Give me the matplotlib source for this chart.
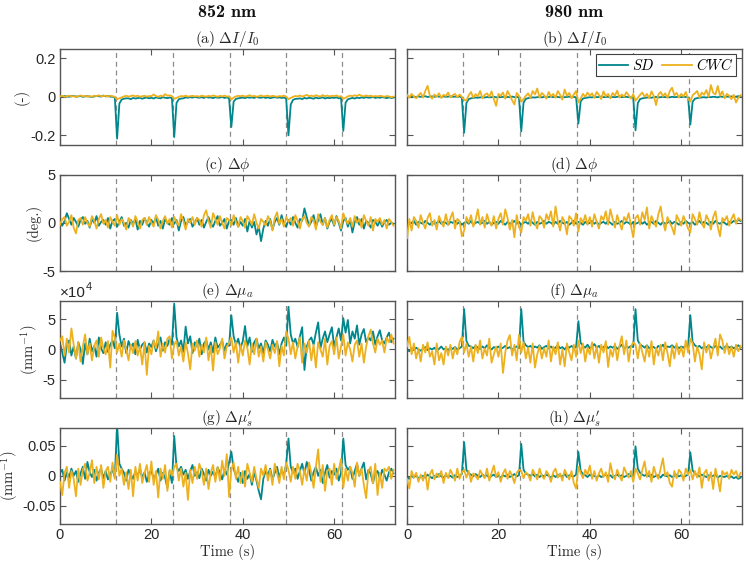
import numpy as np
import matplotlib
matplotlib.use("Agg")
import matplotlib.pyplot as plt

plt.rcParams["font.family"] = ["Liberation Sans", "DejaVu Sans"]
plt.rcParams["mathtext.fontset"] = "cm"
plt.rcParams["axes.unicode_minus"] = False

dt = 0.5  # s between samples
events = [12.2, 24.75, 37.1, 49.4, 61.8]  # stimulus times (s)

# (a) dI/I0, 852 nm, units 1e-3
a_sd = [3, 1, 4, 2, 0, 3, 5, 1, 2, 4, 0, 2, 3, 1, -1, 2, 4, 3, 1, 6,
        2, 4, 1, 0, -3, -217, -35, -14, -10, -8, -8, -12, -6, -9, -7, -5, -10, -6, -4, -8,
        -5, -9, -3, -6, -8, -2, -5, -7, -4, -6, -209, -32, -13, -9, -8, -3, -5, -2, -4, -1,
        -3, -5, -2, -6, -1, -4, -3, -7, -2, -5, -4, -1, -6, -3, -8, -157, -25, -11, -8, -6,
        -4, -7, -2, -5, -3, -6, -1, -4, -5, -2, -6, -3, -7, -4, -2, -5, -3, -6, -4, -8,
        -200, -40, -16, -11, -10, -8, -12, -6, -9, -5, -7, -10, -4, -8, -6, -3, -9, -5, -7, -4,
        -6, -3, -8, -5, -177, -30, -13, -9, -6, -9, -4, -7, -3, -6, -2, -5, -4, -1, -6, -3,
        -5, -2, -4, -7, -3, -6, -4]
a_cwc = [2, 5, 0, 3, 6, 1, 4, -2, 3, 7, 2, 5, 1, 4, 0, 6, 3, 8, 2, 4,
         5, 1, 6, 3, 0, -12, -8, -3, 2, 5, 1, 4, 7, 2, 6, 0, 3, 5, 1, 4,
         3, 12, 4, 0, 6, 2, 14, 5, 8, 3, -10, -6, 0, 4, 2, 6, 1, 3, 5, 2,
         4, 0, 6, 3, 1, 5, 2, 7, 4, 0, 5, 2, 6, 1, 3, -14, -4, 2, 5, 3,
         6, 1, 4, 8, 2, 5, 0, 3, 7, 2, 4, 6, 1, 5, 3, 0, 4, 2, 6, 1,
         -12, -6, 0, 4, 2, 7, 1, 5, 10, 3, 6, 2, 8, 4, 1, 9, 3, 6, 2, 5,
         4, 7, 1, 3, -10, -5, 2, 6, 3, 8, 4, 11, 5, 2, 7, 3, 6, 1, 4, 2,
         5, 3, 0, 4, 2, -2, 1]

# (b) dI/I0, 980 nm, units 1e-3
b_sd = [2, 0, 3, 1, -1, 2, 0, 1, 3, -1, 1, 2, 0, 3, 1, -1, 2, 0, 1, 2,
        0, 1, -1, 2, -4, -186, -32, -12, -8, -6, -4, -5, -3, -2, -4, -1, -3, -2, 0, -3,
        -1, -2, 0, -3, -1, -2, 1, -2, -1, -3, -179, -30, -11, -7, -5, -3, -4, -2, -1, -3,
        0, -2, -1, 1, -2, 0, -1, -3, 0, -2, -1, 1, -2, 0, -3, -139, -24, -9, -6, -4,
        -2, -3, 0, -2, -1, 1, -2, -1, 0, -3, -1, -2, 0, 1, -2, -1, 0, -2, -1, -3,
        -174, -33, -12, -8, -6, -4, -3, -5, -2, -1, -3, -2, 0, -2, -1, -3, 0, -2, -1, 0,
        -2, 0, -1, -3, -144, -26, -10, -7, -5, -3, -2, -4, -1, -2, 0, -1, -3, 1, 0, -1,
        1, 0, 2, -1, 1, 3, 2]
b_cwc = [10, -5, 15, 2, -8, 8, 20, -4, 30, 57, 5, -10, 12, 0, 18, -6, 10, 4, 22, -3,
         8, 15, -2, 12, 0, -15, -20, 8, 25, -5, 14, 2, 30, -8, 10, 18, 0, 28, -12, -47,
         15, 5, 22, -10, 30, 8, -18, -40, 20, 5, -25, -12, 5, 18, -6, 30, 12, 43, -5, 20,
         8, -10, 25, 2, 15, -5, 30, 10, -15, 38, 5, 20, -8, 12, 30, -30, -10, 15, 0, 22,
         5, 18, -6, 25, 10, -12, 28, 2, 15, -8, 20, 6, 32, -4, 12, 0, 24, 8, -10, 14,
         -20, -5, 10, 22, 0, 15, -8, 28, 5, -43, 12, 25, 3, 18, -6, 30, 47, 8, 20, -4,
         15, 2, 25, -10, -25, 8, 18, 30, -5, 22, 10, 35, 0, 61, 20, 12, 56, 5, 28, -8,
         15, 5, -12, 10, -30, -5, 8]

# (c) dphi, 852 nm, units 0.1 deg
c_sd = [0, -3, 2, 10, 4, -2, 5, 1, -4, 3, 6, -1, 2, -5, 4, 0, 7, -3, 1, 3,
        -2, 5, -6, 2, 4, -4, 1, 6, -3, 0, -5, 3, -1, 4, -7, 2, -2, 5, 0, -4,
        3, -1, 6, -3, 2, -6, 4, 0, -2, 5, -1, 3, -8, 2, 6, -3, 1, 4, -4, 0,
        5, -2, 3, -5, 1, 6, -1, -4, 2, 7, -3, 0, 4, -6, 2, 3, -2, 5, -4, 1,
        -3, 4, -9, 2, -5, 1, -12, -4, -19, -6, 2, -3, 4, -7, 1, 5, -2, 8, -1, -4,
        3, -2, 6, 0, -5, 4, 2, 15, 6, -3, 1, 8, -4, 3, 9, -2, 5, -6, 1, 4,
        -3, 7, 0, -8, 2, 5, -4, 3, -10, 1, 6, -2, 4, -6, 2, 0, -5, 3, 1, -3,
        2, -4, 1, 3, -2, 0, -1]
c_cwc = [-2, 4, 6, -3, 1, 8, -5, -11, 3, 5, -2, 6, 0, -4, 7, 2, -6, 4, 9, -1,
         3, -5, 6, 1, -3, 8, -2, 4, 0, -7, 5, 2, -4, 7, 1, -6, 3, 5, -2, 6,
         0, -4, 8, 3, -6, 2, 7, -1, 4, -5, 6, 1, -3, 9, 2, -7, 4, 0, 6, -2,
         5, 3, -4, 8, 13, 2, -5, 10, 4, -2, 7, 0, -6, 5, 3, -3, 8, 1, -4, 6,
         2, -5, 7, 3, -2, 9, 0, -6, 4, 1, -3, 7, 2, -8, 5, 11, -1, 4, -4, 6,
         1, 5, -3, 8, 2, -6, 4, 7, 0, -4, 6, 3, -7, 9, 1, -2, 5, -5, 3, 8,
         -2, 6, 2, -6, 10, 3, -1, 5, -4, 7, 0, 4, -5, 8, 2, -3, 6, -8, 4, 1,
         5, -2, 3, -6, 4, 1, -3]

# (d) dphi, 980 nm, units 0.1 deg
d_sd = [1, -1, 0, 2, -2, 1, 0, -1, 2, 0, -2, 1, -1, 0, 2, -1, 1, 0, -2, 1,
        0, 2, -1, 1, -2, 0, 1, -1, 2, -2, 0, 1, -1, 0, 2, -1, 1, -2, 0, 1,
        -1, 2, 0, -2, 1, -1, 0, 2, -1, 1, -2, 0, 1, -1, 2, 0, -2, 1, -1, 0,
        2, -1, 1, 0, -2, 1, -1, 2, 0, -1, 1, -2, 0, 2, -1, 1, 0, -2, 1, -1,
        0, 2, -1, 1, -2, 0, 1, -1, 2, 0, -2, 1, -1, 0, 2, -1, 1, 0, -2, 1,
        -1, 0, 2, -1, 1, -2, 0, 1, -1, 2, 0, -2, 1, -1, 0, 2, -1, 1, 0, -2,
        1, -1, 2, 0, -1, 1, -2, 0, 2, -1, 1, 0, -2, 1, -1, 2, 0, -1, 1, 0,
        -2, 1, 0, 2, 1, 3, 2]
d_cwc = [-16, 4, -8, 6, 2, -5, 8, 0, -6, 5, 10, -3, 3, -7, 7, 1, -4, 9, -2, 5,
         11, -6, 4, 2, -14, -8, 6, 0, 8, -4, 3, 14, -2, 6, -5, 9, 1, -3, 7, -6,
         4, 10, -2, 14, 5, -7, 3, -15, 8, -4, -10, 6, 2, 9, -3, 11, 0, -6, 7, 4,
         -5, 9, 3, 12, -4, 17, 2, -8, 6, 1, -12, 7, 4, -3, 10, -9, 5, 0, 8, -2,
         6, -4, 9, 1, -6, 7, 3, 12, -2, 14, 4, -5, 8, 0, -7, 6, 2, 10, -3, -15,
         5, 8, -2, 11, 3, 16, -6, 7, 1, -4, 9, 17, 2, -8, 6, 0, -5, -12, 8, 3,
         -3, 7, 1, -6, -10, 9, 4, -2, 11, 0, -5, 8, 3, -7, 6, 12, -4, -14, 5, 2,
         7, -3, 4, 9, -1, 5, 3]

# (e) dmua, 852 nm, units 1e-5 mm^-1
e_sd = [10, -5, -22, 8, 15, -10, 5, -15, 12, 0, -24, 10, -8, 18, -3, 6, -12, 20, 2, -6,
        12, -4, 8, 15, 2, 61, 25, 5, 18, -6, 14, 3, 10, -8, 16, 0, 8, 12, -5, 10,
        4, 15, -3, 9, 20, -2, 12, 6, 18, 8, 76, 20, 5, 15, -4, 38, 10, 22, -6, 12,
        5, 18, -8, 10, 15, 0, 12, -5, 20, 3, 8, 14, -2, 10, 6, 57, 22, 8, 18, 2,
        14, 39, 5, 20, -4, 12, 18, 2, 10, -6, 15, 8, -3, 16, 5, 12, -8, 10, 20, 6,
        71, 25, 10, 18, 4, 22, 37, -34, 5, 15, 20, 8, 28, 45, 2, 18, 30, 12, 25, 37,
        5, 20, 35, 15, 52, 28, 49, 10, 30, 18, 40, 8, 25, 34, 12, 20, 15, 30, 8, 22,
        32, 15, 10, 20, 28, 12, 18]
e_cwc = [15, 22, -10, 18, -5, 35, 8, -15, 12, -20, 5, 25, -8, 10, -18, 6, 15, -12, 20, 2,
         -8, 14, -30, 31, 20, -5, 10, -12, 15, 0, -18, 8, -6, 14, -10, 5, -25, 12, -42, 6,
         -8, 15, 2, 30, -12, 10, -5, 18, 22, -15, 8, 14, -10, 5, -20, 12, -6, -33, 10, -2,
         15, -12, 8, -5, 20, -18, 6, -35, 12, -8, 2, 18, -15, 5, 10, 20, -5, 12, -22, 8,
         -10, 15, 3, -25, 10, -8, 18, -12, 5, -20, 12, 0, -15, 8, -6, 14, -28, 6, -10, 30,
         18, -8, 12, -15, 5, 20, -22, 10, -5, 15, -18, 8, -30, 12, 0, -12, 18, -25, 6, 14,
         -8, 20, -15, 5, 25, -10, 12, 0, -20, 8, 15, -12, 10, -22, 5, 22, 33, 10, -5, 18,
         8, 15, -5, 20, 12, 25, 10]

# (f) dmua, 980 nm, units 1e-5 mm^-1
f_sd = [0, -3, 2, -1, 3, 0, -2, 1, 4, -1, 2, 0, 3, -2, 1, 5, 0, 2, -1, 3,
        1, 4, 0, 2, 5, 67, 14, 6, 5, 2, 6, 3, 1, 5, 2, 7, 3, 0, 4, 2,
        5, 1, 3, 6, 2, 4, 0, 3, 5, 2, 67, 13, 7, 4, 6, 2, 5, 3, 7, 1,
        4, 6, 2, 5, 1, 3, 7, 2, 4, 0, 5, 3, 6, 2, 4, 47, 11, 6, 3, 8,
        2, 5, 9, 3, 6, 1, 4, 7, 2, 5, 3, 6, 1, 4, 8, 2, 5, 3, 6, 4,
        67, 15, 8, 6, 3, 7, 2, 5, 4, 1, 6, 3, 8, 2, 5, 4, 7, 3, 6, 2,
        5, 3, 7, 4, 57, 12, 7, 4, 6, 2, 5, 3, 7, 4, 2, 6, 3, 5, 1, 4,
        6, 3, 5, 2, 4, 7, 3]
f_cwc = [5, 21, -8, 10, -15, 2, -20, 8, -5, 12, -12, -3, -25, 10, -18, -6, -25, 5, -10, 8,
         -15, 3, -8, 12, 21, -5, 10, -12, 5, -20, 8, -6, 15, -15, 2, -10, 18, -22, -8, 5,
         -12, 10, -39, -5, 15, 24, -10, 8, -18, 24, -5, 12, -15, 3, -22, 10, -30, -8, 6, -15,
         2, -12, 15, -20, 5, -8, 12, -25, 0, -28, 10, -5, -18, 8, -12, 15, -6, 10, -20, 3,
         -8, 12, -15, 5, -22, 8, -5, 14, -29, 0, -12, 10, -18, 6, 22, -8, 15, -20, 5, 12,
         8, -15, 10, -5, -20, 6, -12, 14, -25, 3, -10, 8, -18, 12, -6, -28, 5, -15, 10, -8,
         4, -12, 15, -5, 18, 10, -20, 5, -8, -33, 12, -5, 8, -15, 2, 18, -10, 25, 15, -6,
         10, -8, 5, -12, 8, -3, 6]

# (g) dmus', 852 nm, units 1e-3 mm^-1
g_sd = [5, 10, -8, 6, -3, 12, 0, 8, -10, 4, 15, -5, 23, 6, -2, 10, -8, 5, 12, -4,
        8, -6, 3, 10, -2, 85, 20, 12, 5, -8, 10, 2, -5, 8, 0, 12, -3, 6, -10, 4,
        9, -5, 2, 12, -8, 5, -3, -20, 8, -12, 66, 15, 8, 15, 2, 10, -5, 8, 18, 0,
        6, -4, 12, 3, -8, 10, 0, 7, -3, 14, 5, -6, 10, 2, 22, 40, 12, 0, -10, 5,
        -12, 8, -5, 3, -15, 6, -8, -25, -39, -5, 8, 2, 12, -6, 5, 15, -3, 10, 0, 20,
        62, 15, 5, 12, -5, 8, 20, 3, 23, 10, -8, 6, 15, 0, 10, -12, 5, 18, -3, 8,
        2, 12, -8, 5, 62, 18, 10, 15, -5, 8, 20, 0, 12, 22, -6, 10, 3, -12, 5, 8,
        -5, 10, 2, -8, 6, 12, 4]
g_cwc = [-10, -32, 5, 15, -20, 8, -5, -34, 12, -15, 10, 20, -8, 5, 26, -12, 15, -6, 18, -20,
         8, 15, -10, 22, -5, 35, 0, 12, -15, 6, -22, 10, -34, 15, -8, 20, -12, 5, 18, -10,
         24, -15, 8, -36, 12, -5, 18, -25, 10, 0, 15, 20, -8, 12, -18, 5, -40, 10, -12, 15,
         -5, 20, 8, -15, 12, -22, 5, 18, -10, 15, -8, 25, 0, 36, -35, 10, 22, -5, 15, -12,
         8, -18, 20, 5, -10, 15, -5, -20, 12, 0, 18, -8, 10, -15, 20, 5, -12, 15, -6, 22,
         10, -10, 15, -5, 20, 8, -15, 12, -8, 22, 5, -20, 15, 44, -10, 18, -25, 8, 12, -15,
         20, -5, 10, 28, -20, 12, -8, 15, 5, -18, 22, 0, 12, -15, -37, 8, 15, -12, 20, -32,
         5, -20, 12, 8, 15, -5, 10]

# (h) dmus', 980 nm, units 1e-3 mm^-1
h_sd = [-2, -5, 0, -3, 1, -4, -2, 0, -3, 2, -1, -4, 0, -2, 3, -1, -3, 1, -2, 0,
        -3, 1, -2, 0, 3, 56, 10, 4, 2, -1, 3, 0, -2, 2, -1, 1, -3, 0, 2, -2,
        0, -3, 1, -1, 2, -2, 0, 3, -1, 1, 53, 10, 4, 2, 0, 3, -1, 2, -2, 1,
        -1, 2, 0, -3, 1, -2, 2, 0, -1, 3, -2, 1, 0, -1, 2, 40, 8, 3, 1, -2,
        2, -1, 0, -3, 1, -2, 0, 2, -1, 1, -3, 0, 2, -1, 1, -2, 0, 3, -1, 1,
        49, 12, 5, 2, 0, 3, -1, 2, -2, 0, 1, -3, 2, 0, -1, 1, -2, 0, 2, -1,
        1, -2, 0, 2, 39, 9, 4, 1, -1, 2, 0, -2, 1, -1, 0, 2, -3, 0, -1, -2,
        0, -3, -1, -4, -2, -5, -3]
h_cwc = [-5, -21, 8, -3, 5, -10, 2, -8, 6, -23, 3, 10, -6, 4, -2, 8, -12, 5, -4, 10,
         2, -8, 12, -5, 6, 10, -3, 8, -10, 4, 0, -6, 9, 2, -4, 12, -8, 5, 17, -2,
         6, -10, 4, 11, -5, 8, 0, -12, 5, 10, 8, -4, 6, 2, -8, 10, 3, -6, 12, 0,
         -5, 8, 2, -10, 6, 12, -3, 4, -8, 10, 2, -6, 8, -12, -21, 15, 5, -4, 10, 2,
         17, -5, 8, -8, 4, 12, -2, 6, -10, 21, 3, -6, 10, 0, -8, 14, 5, -3, 8, -10,
         12, 4, -6, 10, 24, -2, 8, -10, 15, 2, -5, 12, 29, 0, 6, -12, -18, 8, -4, 10,
         5, -8, 12, 2, 10, -6, 8, -3, 14, -20, 4, 10, -8, 6, -22, 12, -4, -26, 8, 2,
         6, -5, 10, 2, 8, -3, 5]

col_titles = ["852 nm", "980 nm"]
panel_titles = [r"$\mathrm{(a)}\ \Delta I/I_0$", r"$\mathrm{(b)}\ \Delta I/I_0$",
                r"$\mathrm{(c)}\ \Delta\phi$", r"$\mathrm{(d)}\ \Delta\phi$",
                r"$\mathrm{(e)}\ \Delta\mu_a$", r"$\mathrm{(f)}\ \Delta\mu_a$",
                r"$\mathrm{(g)}\ \Delta\mu_s'$", r"$\mathrm{(h)}\ \Delta\mu_s'$"]
ylabels = ["(-)", "(deg.)", r"$\mathrm{(mm^{-1})}$", r"$\mathrm{(mm^{-1})}$"]
ylims = [0.25, 5, 8, 0.08]
yticks = [[-0.2, 0, 0.2], [-5, 0, 5], [-5, 0, 5], [-0.05, 0, 0.05]]
yticklabels = [["-0.2", "0", "0.2"], ["-5", "0", "5"], ["-5", "0", "5"], ["-0.05", "0", "0.05"]]
scales = [1e-3, 0.1, 0.1, 1e-3]   # stored units -> plotted units (mua plotted in 1e-4)
xticks = [0, 20, 40, 60]

series = [[(a_sd, a_cwc), (b_sd, b_cwc)],
          [(c_sd, c_cwc), (d_sd, d_cwc)],
          [(e_sd, e_cwc), (f_sd, f_cwc)],
          [(g_sd, g_cwc), (h_sd, h_cwc)]]

c_sd_col = "#00868B"
c_cwc_col = "#EDB120"
frame = "#555555"
txt = "#262626"

fig = plt.figure(figsize=(7.46, 5.67), dpi=100)
lefts = [0.0804, 0.5456]
bottoms = [0.7443, 0.522, 0.2986, 0.0758]
w, h = 0.449, 0.170

for r in range(4):
    for c in range(2):
        ax = fig.add_axes([lefts[c], bottoms[r], w, h])
        sd, cwc = series[r][c]
        t_sd = np.arange(len(sd)) * dt
        t_cwc = np.arange(len(cwc)) * dt
        for ev in events:
            ax.axvline(ev, color="0.55", lw=0.9, ls=(0, (4, 3)), zorder=1)
        ax.plot(t_sd, np.array(sd) * scales[r], color=c_sd_col, lw=1.3, label=r"$SD$", zorder=2)
        ax.plot(t_cwc, np.array(cwc) * scales[r], color=c_cwc_col, lw=1.3, label=r"$CWC$", zorder=3)
        ax.set_xlim(0, 73.3)
        ax.set_ylim(-ylims[r], ylims[r])
        ax.set_xticks(xticks)
        ax.set_yticks(yticks[r])
        ax.tick_params(direction="in", top=True, right=True, length=4, width=0.8,
                       color=frame, labelsize=10.5, labelcolor=txt, pad=3)
        for s in ax.spines.values():
            s.set_color(frame)
            s.set_linewidth(1.0)
        if c == 0:
            ax.set_yticklabels(yticklabels[r])
            if ylabels[r].startswith("$"):
                ax.set_ylabel(ylabels[r], fontsize=10.5, color=txt, labelpad=1)
            else:
                ax.set_ylabel(ylabels[r], fontsize=10.5, family="cmr10", color=txt, labelpad=1)
        else:
            ax.set_yticklabels([])
        if r == 3:
            ax.set_xticklabels([str(x) for x in xticks])
            ax.set_xlabel("Time (s)", family="cmr10", fontsize=10.5, color=txt, labelpad=1)
        else:
            ax.set_xticklabels([])
        ax.set_title(panel_titles[2 * r + c], fontsize=11, pad=3, color=txt)
        if r == 2 and c == 0:
            ax.text(0.0, 1.015, "×10", transform=ax.transAxes, ha="left", va="bottom",
                    fontsize=11, color=txt)
            ax.annotate("4", xy=(0.0, 1.015), xycoords="axes fraction", xytext=(18.5, 6),
                        textcoords="offset points", ha="left", va="bottom", fontsize=8, color=txt)
        if r == 0 and c == 1:
            leg = ax.legend(loc="upper right", ncol=2, fontsize=10.5, frameon=True, fancybox=False,
                            edgecolor="#404040", framealpha=1, borderpad=0.2, handlelength=2.0,
                            handletextpad=0.3, columnspacing=0.5, borderaxespad=0.4)
            leg.get_frame().set_linewidth(0.8)

for c in range(2):
    fig.text(lefts[c] + w / 2, 0.978, col_titles[c], family="cmb10",
             ha="center", va="center", fontsize=13, color="#111111")

fig.savefig("out.png", dpi=100)
